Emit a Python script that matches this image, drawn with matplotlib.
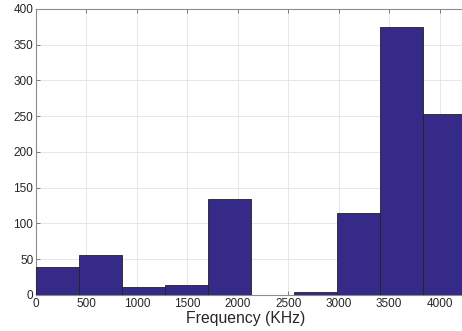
import matplotlib
matplotlib.use("Agg")
import matplotlib.pyplot as plt
import numpy as np

# bin edges (KHz) and counts
bin_edges = [0, 426, 853, 1279, 1706, 2132, 2558, 2985, 3411, 3838, 4264]
counts = [39, 56, 11, 14, 134, 0, 4, 114, 375, 253]
xticks = [0, 500, 1000, 1500, 2000, 2500, 3000, 3500, 4000]
yticks = [0, 50, 100, 150, 200, 250, 300, 350, 400]

plt.rcParams['font.family'] = ['Liberation Sans', 'DejaVu Sans']

fig = plt.figure(figsize=(4.62, 3.31), dpi=100)
ax = fig.add_axes([0.078, 0.109, 0.931, 0.864])

lefts = np.array(bin_edges[:-1])
widths = np.diff(bin_edges)
ax.bar(lefts, counts, width=widths, align='edge', color='#352a87',
       edgecolor='#222222', linewidth=0.6, zorder=3)

ax.set_xlim(bin_edges[0], bin_edges[-1])
ax.set_ylim(0, 400)
ax.set_xticks(xticks)
ax.set_yticks(yticks)
ax.grid(True, color='#e3e3e3', linewidth=0.6, zorder=0)
ax.set_axisbelow(True)

for s in ax.spines.values():
    s.set_color('#8c8c8c')
    s.set_linewidth(0.8)
ax.tick_params(direction='in', length=3, width=0.6, color='#666666',
               labelsize=8.5, labelcolor='#262626', top=True, right=True, pad=2)

ax.set_xlabel('Frequency (KHz)', fontsize=11.3, color='#262626', labelpad=1)
ax.xaxis.set_label_coords(0.488, -0.055)

fig.savefig('out.png', dpi=100)
